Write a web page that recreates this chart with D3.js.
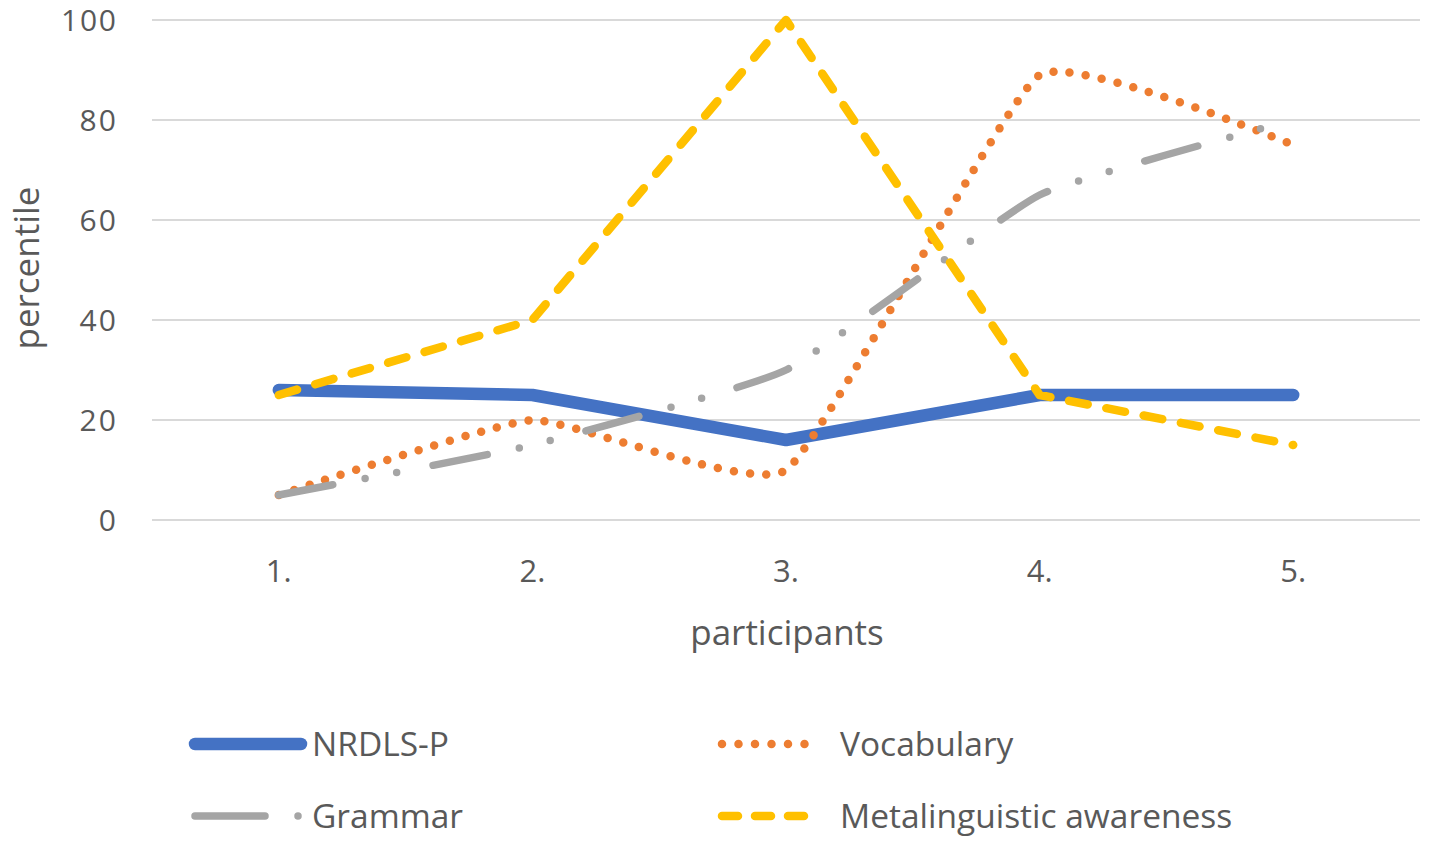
<!DOCTYPE html>
<html><head><meta charset="utf-8">
<script src="https://cdn.jsdelivr.net/npm/d3@7"></script>
<style>body{margin:0;background:#fff}svg{display:block}text{font-family:"Open Sans",sans-serif;fill:#595959}</style>
</head><body><svg id="c" width="1429" height="841"></svg>
<script>
const categories = ["1.", "2.", "3.", "4.", "5."];
const nrdls = [26, 25, 16, 25, 25];
const vocabulary = [5, 20, 10, 89, 75];
const grammar = [5, 15, 30, 65, 80];
const metaling = [25, 40, 100, 25, 15];
const yTicks = [0, 20, 40, 60, 80, 100];
const seriesNames = ["NRDLS-P", "Vocabulary", "Grammar", "Metalinguistic awareness"];

const svg = d3.select("#c");
const x = d3.scaleBand().domain(categories).range([152, 1420]);
const y = d3.scaleLinear().domain([0, 100]).range([520, 20]);
const cx = d => x(d) + x.bandwidth() / 2;

svg.append("g").selectAll("line").data(yTicks).join("line")
  .attr("x1", 152).attr("x2", 1420).attr("y1", d => y(d)).attr("y2", d => y(d))
  .attr("stroke", "#d9d9d9").attr("stroke-width", 2);
svg.append("g").selectAll("text").data(yTicks).join("text")
  .attr("x", 116).attr("y", d => y(d) + 11).attr("text-anchor", "end")
  .attr("font-size", 30).attr("textLength", d => String(d).length * 18.3).text(d => d);
svg.append("g").selectAll("text").data(categories).join("text")
  .attr("x", d => cx(d)).attr("y", 571).attr("dy", "0.36em").attr("text-anchor", "middle")
  .attr("font-size", 31).text(d => d);
svg.append("text").attr("x", 787).attr("y", 632).attr("dy", "0.36em").attr("text-anchor", "middle")
  .attr("font-size", 35).text("participants");
svg.append("text").attr("transform", "translate(26,268) rotate(-90)").attr("dy", "0.36em")
  .attr("text-anchor", "middle").attr("font-size", 35).text("percentile");

const styles = [
  {data: nrdls, color: "#4472c4", w: 12.5, dash: null, curve: d3.curveLinear},
  {data: vocabulary, color: "#ed7d31", w: 8.5, dash: "0 16.3", curve: d3.curveCardinal.tension(0.6)},
  {data: grammar, color: "#a5a5a5", w: 7.5, dash: "55 33 0 32 0 37", curve: d3.curveCardinal.tension(0.6)},
  {data: metaling, color: "#ffc000", w: 8.5, dash: "19 19", curve: d3.curveLinear}
];
styles.forEach(s => {
  const line = d3.line().x((d, j) => cx(categories[j])).y(d => y(d)).curve(s.curve);
  svg.append("path").attr("d", line(s.data)).attr("fill", "none")
    .attr("stroke", s.color).attr("stroke-width", s.w).attr("stroke-linecap", "round")
    .attr("stroke-linejoin", "round").attr("stroke-dasharray", s.dash);
});

const legendPos = [
  {x: 195, y: 744}, {x: 722, y: 744}, {x: 195, y: 816}, {x: 722, y: 816}
];
const legendLen = [106, 98, 106, 98];
const legendDash = [null, "0 16.5", "70 33 0 40", "16 17"];
seriesNames.forEach((n, i) => {
  const p = legendPos[i], s = styles[i];
  svg.append("line").attr("x1", p.x).attr("x2", p.x + legendLen[i]).attr("y1", p.y).attr("y2", p.y)
    .attr("stroke", s.color).attr("stroke-width", s.w).attr("stroke-linecap", "round")
    .attr("stroke-dasharray", legendDash[i]);
  svg.append("text").attr("x", i % 2 === 0 ? 312 : 840).attr("y", p.y).attr("dy", "0.36em")
    .attr("font-size", 33.5).text(n);
});
</script></body></html>
